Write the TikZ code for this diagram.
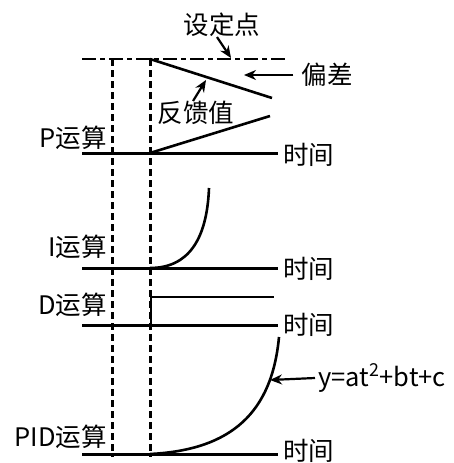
\documentclass[tikz,border=0pt]{standalone}
\usepackage{fontspec}
\setmainfont{Noto Sans CJK SC}
\usetikzlibrary{positioning, arrows.meta}

\begin{document}
\begin{tikzpicture}[
  x=1pt, y=-1pt,
  lbl/.style={font=\fontsize{25.5}{28}\selectfont, inner sep=0pt},
  axis/.style={line width=3pt},
  curve/.style={line width=2.6pt},
  guide/.style={line width=3pt, dash pattern=on 7pt off 4pt},
  setline/.style={line width=2.8pt, dash pattern=on 14pt off 4pt on 5pt off 4pt},
  arrow/.style={-{Stealth[length=12pt, width=10pt]}, line width=2.2pt}
]
\useasboundingbox (0,0) rectangle (454,463);

% dashed guides
\coordinate (g1a) at (112,59);
\coordinate (g1b) at (112,457);
\coordinate (g2a) at (150,59);
\coordinate (g2b) at (150,457);
\draw[guide] (g1a) -- (g1b);
\draw[guide] (g2a) -- (g2b);

% P
\coordinate (p0) at (82,153);
\coordinate (p1) at (278,153);
\coordinate (s0) at (82,59);
\coordinate (s1) at (285,59);
\coordinate (pa) at (150,59);
\coordinate (pb) at (150,153);
\draw[setline] (s0) -- (s1);
\draw[axis] (p0) -- (p1);
\draw[curve] (pa) -- (272,98);
\draw[curve] (pb) -- (270,116);
\node[lbl, anchor=east] (plbl) at (107,138) {P运算};
\node[lbl, anchor=west] (t1) at (283,155) {时间};

\node[lbl] (sp) at (222,25) {设定点};
\coordinate (spt) at (231,58);
\draw[arrow] ([xshift=-5pt]sp.south) -- (spt);
\node[lbl] (dev) at (327,75) {偏差};
\coordinate (devt) at (244,75);
\draw[arrow] ([xshift=-8pt]dev.west) -- (devt);
\node[lbl] (fb) at (196,113) {反馈值};
\coordinate (fbt) at (206,80);
\draw[arrow] ([xshift=-3pt]fb.north) -- (fbt);

% I
\coordinate (i0) at (82,268);
\coordinate (i1) at (278,268);
\coordinate (ia) at (150,268);
\coordinate (ib) at (209,188);
\draw[axis] (i0) -- (i1);
\draw[curve] (ia) .. controls (188,268) and (207,240) .. (ib);
\node[lbl, anchor=east] (ilbl) at (107,247) {I运算};
\node[lbl, anchor=west] (t2) at (283,269) {时间};

% D
\coordinate (d0) at (82,325);
\coordinate (d1) at (278,325);
\coordinate (da) at (112,325);
\coordinate (db) at (151,297);
\coordinate (dc) at (274,297);
\draw[axis] (d0) -- (d1);
\draw[curve] (da) -| (db) -- (dc);
\node[lbl, anchor=east] (dlbl) at (107,305) {D运算};
\node[lbl, anchor=west] (t3) at (283,325) {时间};

% PID
\coordinate (q0) at (82,454);
\coordinate (q1) at (278,454);
\coordinate (qa) at (150,454);
\coordinate (qb) at (279,337);
\draw[axis] (q0) -- (q1);
\draw[curve] (qa) .. controls (232,450) and (272,412) .. (qb);
\node[lbl, anchor=east] (qlbl) at (107,437) {PID运算};
\node[lbl, anchor=west] (t4) at (283,451) {时间};
\node[lbl, anchor=west] (eq) at (318,378) {y=at\textsuperscript{2}+bt+c};
\coordinate (eqt) at (270,380);
\draw[arrow] ([xshift=-3pt]eq.west) -- (eqt);

\end{tikzpicture}
\end{document}
